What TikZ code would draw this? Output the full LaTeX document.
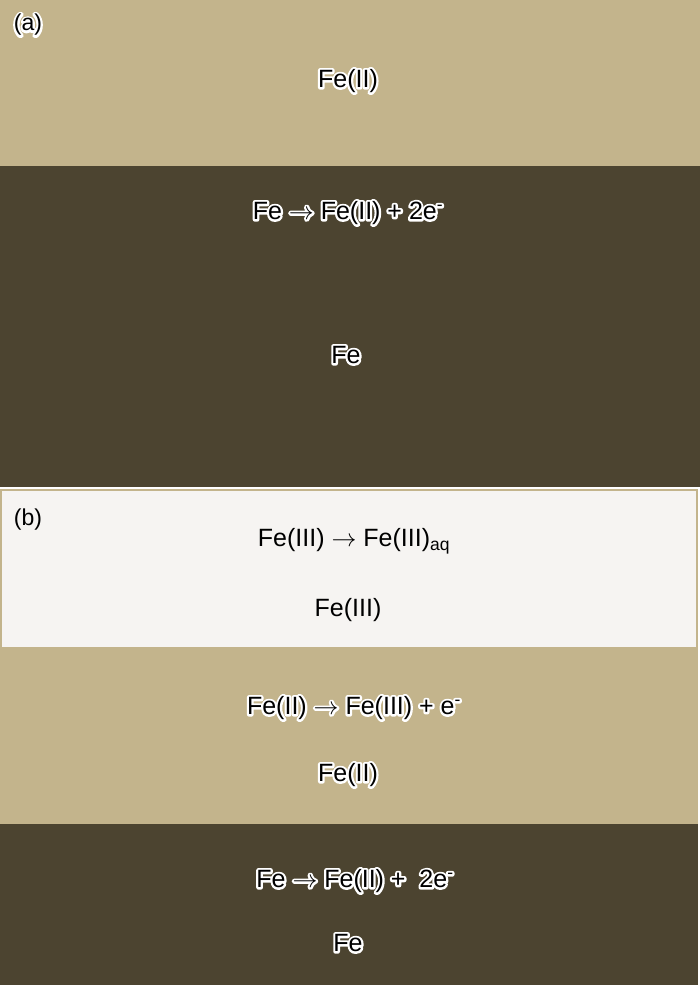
\documentclass[tikz,border=0pt]{standalone}
\usepackage{fontspec}
\setmainfont{Liberation Sans}
\usepackage{xcolor}

\definecolor{sand}{HTML}{C3B48C}
\definecolor{metal}{HTML}{4C4430}
\definecolor{film}{HTML}{F6F4F2}
% white outline under black text
\newcommand{\glow}[1]{\leavevmode\rlap{\special{pdf:literal direct 1 Tr 4.4 w 1 j 1 1 1 RG}#1\special{pdf:literal direct 0 Tr 0.4 w 0 j 0 0 0 RG}}#1}
\newcommand{\yields}{$\rightarrow$}

\begin{document}
\begin{tikzpicture}[x=1pt,y=-1pt,
	label node/.style={inner sep=0pt,font=\fontsize{23}{27}\selectfont},
	main node/.style={inner sep=0pt,font=\fontsize{25}{29}\selectfont}]
	
	\useasboundingbox (0,0) rectangle (700,987);
	\fill[white] (0,0) rectangle (700,987);
	
	% panel (a)
	\fill[sand] (0,0) rectangle (700,166);
	\fill[metal] (0,166) rectangle (700,487);
	
	% panel (b)
	\fill[film, draw=sand, line width=2pt] (1,490) rectangle (697,648);
	\fill[sand] (0,649) rectangle (698,824);
	\fill[metal] (0,824) rectangle (698,985);
	
	\node[label node] (a) at (28,25) {\glow{(a)}};
	\node[main node] (a1) at (348,81) {\glow{Fe(II)}};
	\node[main node] (a2) at (348,213) {\glow{Fe \yields\ Fe(II) + 2e\textsuperscript{-}}};
	\node[main node] (a3) at (346,355) {\glow{Fe}};
	
	\node[label node] (b) at (28,520) {(b)};
	\node[main node] (b1) at (354,541) {Fe(III) \yields\ Fe(III)\textsubscript{aq}};
	\node[main node] (b2) at (348,610) {Fe(III)};
	\node[main node] (b3) at (354,708) {\glow{Fe(II) \yields\ Fe(III) + e\textsuperscript{-}}};
	\node[main node] (b4) at (348,775) {\glow{Fe(II)}};
	\node[main node] (b5) at (355,881) {\glow{Fe \yields\ Fe(II) +\ \ 2e\textsuperscript{-}}};
	\node[main node] (b6) at (348,943) {\glow{Fe}};
\end{tikzpicture}
\end{document}
